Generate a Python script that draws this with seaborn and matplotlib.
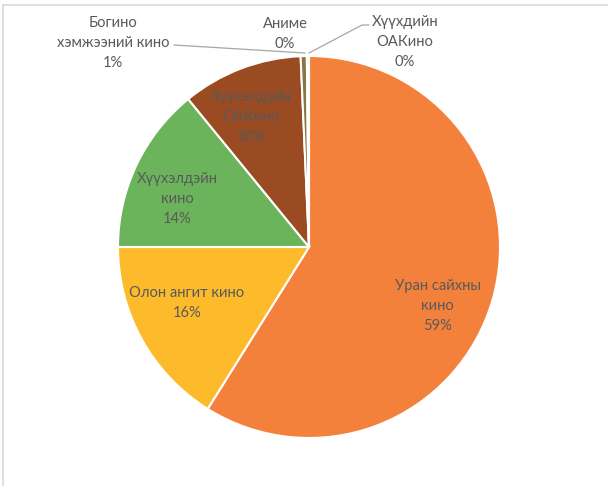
import numpy as np
import matplotlib
matplotlib.use("Agg")
import matplotlib.pyplot as plt
import seaborn as sns
from matplotlib.lines import Line2D

categories = ["Уран сайхны кино", "Олон ангит кино", "Хүүхэлдэйн кино",
              "Хүүхэлдэйн ОАКино", "Богино хэмжээний кино", "Аниме", "Хүүхдийн ОАКино"]
values = [58.9, 16.1, 14.1, 10.2, 0.52, 0.09, 0.09]
display_names = ["Уран сайхны\nкино", "Олон ангит кино", "Хүүхэлдэйн\nкино",
                 "Хүүхэлдэйн\nОАКино", "Богино\nхэмжээний кино", "Аниме", "Хүүхдийн\nОАКино"]
colors = ["#F4813B", "#FDBB2B", "#6BB45C", "#9B4B22", "#8A7442", "#A5A5A5", "#5B9BD5"]

sns.set_theme(style="white")
plt.rcParams['font.family'] = ['Lato', 'DejaVu Sans']

W, H = 608, 486
fig = plt.figure(figsize=(W / 100, H / 100), dpi=100)
ax = fig.add_axes([0, 0, 1, 1])
cx, cy, R = 309, 247, 191

wedges, _ = ax.pie(values, colors=colors, startangle=90, counterclock=False,
                   radius=1.0, center=(0, 0), frame=True,
                   wedgeprops=dict(edgecolor="white", linewidth=1.5))
ax.set_xlim(-cx / R, (W - cx) / R)
ax.set_ylim(-(H - cy) / R, cy / R)
ax.axis("off")

total = sum(values)
pcts = [f"{round(v / total * 100):.0f}%" for v in values]
txtc = "#595959"
fs = 10.6
ls = 1.55

def px(x, y):
    return ((x - cx) / R, (cy - y) / R)

# inside labels
inner_r = [0.70, 0.72, 0.72, 0.74]
offsets = [(0, -0.115), (-0.01, 0.055), (-0.04, -0.055), (-0.04, -0.01)]
for i in range(4):
    w = wedges[i]
    mid = np.deg2rad((w.theta1 + w.theta2) / 2)
    x = inner_r[i] * np.cos(mid) + offsets[i][0]
    y = inner_r[i] * np.sin(mid) + offsets[i][1]
    ax.text(x, y, f"{display_names[i]}\n{pcts[i]}", ha="center", va="center",
            fontsize=fs, color=txtc, linespacing=ls)

# outside labels
ax.text(*px(113, 43), f"{display_names[4]}\n{pcts[4]}", ha="center", va="center",
        fontsize=fs, color=txtc, linespacing=ls)
ax.text(*px(285, 34), f"{display_names[5]}\n{pcts[5]}", ha="center", va="center",
        fontsize=fs, color=txtc, linespacing=ls)
ax.text(*px(405, 42), f"{display_names[6]}\n{pcts[6]}", ha="center", va="center",
        fontsize=fs, color=txtc, linespacing=ls)

# leader lines
lc = "#A6A6A6"
p1, p2 = px(174, 45), px(305, 53)
ax.plot([p1[0], p2[0]], [p1[1], p2[1]], color=lc, lw=0.9)
q1, q2, q3 = px(369, 25), px(362, 25), px(309, 53)
ax.plot([q1[0], q2[0], q3[0]], [q1[1], q2[1], q3[1]], color=lc, lw=0.9)

# chart frame (cropped)
fig.add_artist(Line2D([2.5 / W, 1], [1 - 5.5 / H, 1 - 5.5 / H], color="#D9D9D9", lw=1.2,
                      transform=fig.transFigure))
fig.add_artist(Line2D([2.5 / W, 2.5 / W], [0, 1 - 5.5 / H], color="#D9D9D9", lw=1.2,
                      transform=fig.transFigure))

fig.savefig("out.png", dpi=100, facecolor="white")
